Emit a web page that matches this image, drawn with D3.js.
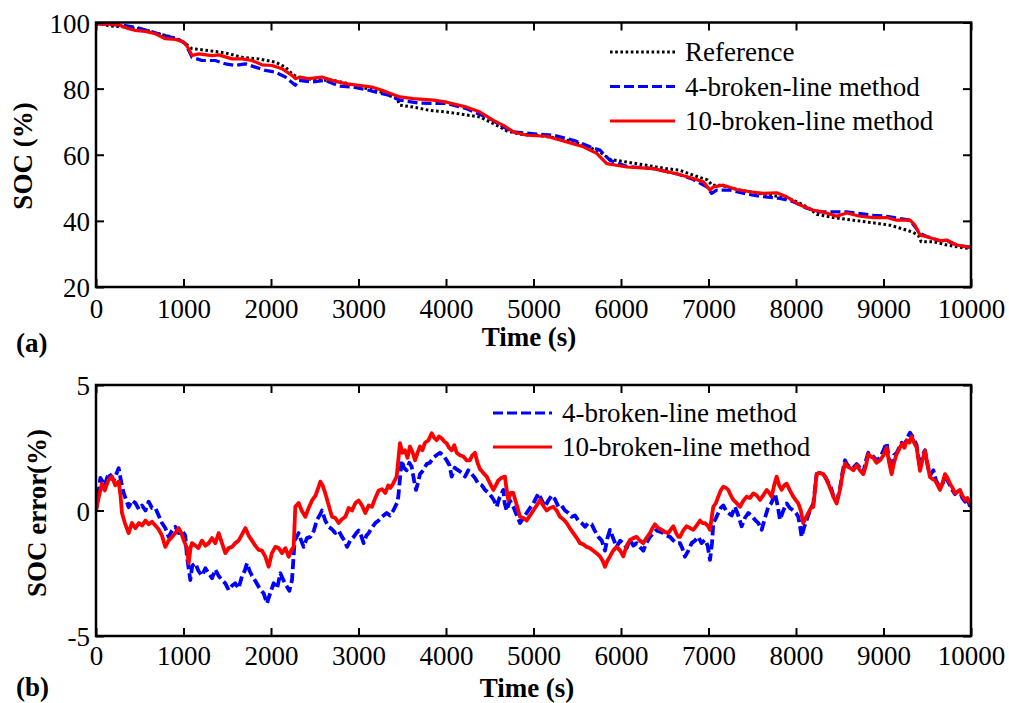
<!DOCTYPE html>
<html>
<head>
<meta charset="utf-8">
<script src="https://cdn.jsdelivr.net/npm/d3@7"></script>
<style>
  body { margin: 0; background: #fff; }
  text { font-family: "Liberation Serif", "Times New Roman", serif; }
</style>
</head>
<body>
<div id="chart"></div>
<script>
// ---- data ----
const xTicks = [0, 1000, 2000, 3000, 4000, 5000, 6000, 7000, 8000, 9000, 10000];
const socTicks = [20, 40, 60, 80, 100];
const errTicks = [-5, 0, 5];

// (a) SOC curves
const refT = [0, 150, 335, 526, 716, 869, 964, 1021, 1097, 1288, 1478, 1669, 1859, 2050, 2164, 2240, 2297, 2431, 2583, 2697, 2850, 3002, 3230, 3364, 3440, 3474, 3627, 3817, 4008, 4198, 4389, 4503, 4617, 4694, 4846, 5037, 5227, 5418, 5608, 5760, 5875, 6065, 6294, 6523, 6674, 6826, 6941, 6990, 7040, 7131, 7360, 7589, 7817, 7950, 8046, 8150, 8236, 8427, 8655, 8884, 9074, 9265, 9341, 9400, 9430, 9570, 9722, 9874, 10000];
const refSoc = [100, 99.0, 98.6, 98.0, 96.6, 95.6, 94.6, 93.6, 92.1, 91.5, 90.8, 89.5, 89.0, 88.0, 86.5, 84.5, 83.5, 82.9, 82.5, 82.6, 81.7, 80.6, 79.2, 77.8, 77.0, 75.0, 74.4, 73.4, 72.9, 72.2, 71.4, 69.9, 68.4, 67.2, 66.2, 65.9, 65.2, 64.2, 62.6, 60.8, 58.6, 57.8, 56.8, 55.8, 55.3, 53.8, 52.8, 52.4, 50.8, 50.8, 49.3, 48.3, 47.3, 46.5, 45.3, 43.8, 42.0, 41.0, 40.2, 39.4, 38.7, 37.2, 36.5, 35.5, 33.7, 33.7, 32.7, 32.0, 31.6];

const soc4T = [0, 68, 335, 488, 716, 945, 1021, 1097, 1211, 1364, 1478, 1592, 1707, 1821, 1935, 2050, 2164, 2278, 2316, 2469, 2621, 2773, 2926, 3116, 3345, 3474, 3703, 4008, 4237, 4503, 4656, 4770, 5075, 5227, 5456, 5646, 5760, 5875, 6065, 6370, 6656, 6826, 6979, 7036, 7093, 7246, 7436, 7627, 7817, 7969, 8122, 8274, 8579, 8884, 9036, 9189, 9303, 9417, 9493, 9646, 9722, 9836, 10000];
const soc4 = [99.6, 99.6, 99.1, 98.3, 96.6, 94.9, 93.6, 89.5, 88.5, 88.5, 87.5, 87.0, 87.5, 86.5, 85.5, 85.0, 83.5, 81.0, 82.5, 82.0, 82.5, 80.8, 80.5, 79.5, 78.0, 76.5, 75.6, 75.5, 73.9, 70.9, 68.4, 66.9, 66.2, 65.9, 64.4, 62.4, 61.4, 58.3, 56.5, 55.8, 54.1, 52.5, 50.3, 48.3, 49.3, 49.3, 48.1, 47.3, 46.8, 45.8, 43.8, 42.7, 42.7, 41.7, 41.4, 40.7, 40.2, 36.2, 35.3, 34.0, 34.0, 32.7, 32.0];

const soc10T = [0, 30, 145, 259, 373, 450, 564, 678, 792, 907, 1002, 1059, 1097, 1173, 1326, 1402, 1554, 1669, 1783, 1897, 2011, 2126, 2240, 2278, 2335, 2431, 2583, 2697, 2850, 3002, 3154, 3269, 3364, 3474, 3627, 3856, 4008, 4237, 4389, 4541, 4656, 4770, 4922, 5151, 5379, 5570, 5722, 5837, 6065, 6370, 6656, 6826, 6941, 7017, 7055, 7170, 7322, 7474, 7627, 7779, 7893, 8046, 8198, 8312, 8464, 8579, 8731, 8884, 9036, 9150, 9303, 9360, 9417, 9493, 9646, 9722, 9836, 10000];
const soc10 = [99.6, 99.6, 99.6, 99.3, 98.1, 97.6, 97.3, 96.6, 95.1, 94.9, 94.1, 92.1, 90.0, 90.5, 90.0, 90.2, 89.0, 89.0, 88.5, 87.2, 87.0, 86.0, 84.0, 83.0, 83.5, 83.0, 83.5, 82.5, 81.5, 81.0, 80.5, 79.5, 78.5, 77.5, 77.0, 76.5, 75.9, 74.4, 72.9, 70.4, 68.9, 66.9, 65.9, 65.6, 63.9, 62.4, 60.4, 57.3, 56.3, 55.8, 54.1, 52.8, 51.8, 49.3, 50.3, 50.8, 49.5, 48.8, 48.3, 48.5, 47.3, 44.8, 43.2, 42.7, 41.4, 42.4, 41.4, 41.0, 41.0, 40.2, 40.2, 38.7, 35.7, 35.2, 34.0, 34.2, 32.7, 32.0];

// (b) SOC error curves
const err4T = [0, 25, 50, 100, 145, 202, 259, 290, 316, 373, 410, 450, 490, 526, 565, 602, 640, 678, 716, 754, 792, 830, 869, 907, 945, 983, 1020, 1040, 1078, 1100, 1135, 1170, 1211, 1250, 1288, 1326, 1364, 1400, 1440, 1478, 1516, 1554, 1592, 1630, 1669, 1700, 1726, 1755, 1783, 1820, 1859, 1890, 1916, 1954, 1990, 2030, 2070, 2107, 2145, 2183, 2210, 2240, 2270, 2316, 2345, 2373, 2410, 2450, 2490, 2526, 2555, 2583, 2620, 2659, 2697, 2735, 2773, 2811, 2840, 2869, 2905, 2945, 2975, 3002, 3030, 3059, 3090, 3116, 3150, 3192, 3230, 3269, 3322, 3360, 3398, 3440, 3455, 3493, 3520, 3550, 3580, 3607, 3635, 3657, 3680, 3703, 3740, 3779, 3815, 3855, 3890, 3931, 3970, 4007, 4040, 4065, 4100, 4141, 4180, 4217, 4255, 4293, 4330, 4369, 4410, 4446, 4485, 4522, 4550, 4579, 4610, 4655, 4670, 4693, 4730, 4769, 4810, 4846, 4885, 4922, 4960, 4998, 5030, 5055, 5095, 5131, 5170, 5208, 5245, 5284, 5320, 5360, 5400, 5436, 5475, 5512, 5550, 5589, 5625, 5665, 5700, 5741, 5780, 5817, 5845, 5874, 5910, 5950, 5990, 6026, 6065, 6103, 6140, 6179, 6215, 6255, 6290, 6331, 6370, 6407, 6445, 6484, 6520, 6560, 6600, 6636, 6674, 6700, 6731, 6770, 6807, 6845, 6884, 6920, 6960, 6990, 7017, 7040, 7055, 7085, 7112, 7140, 7170, 7200, 7227, 7265, 7303, 7340, 7379, 7415, 7455, 7490, 7531, 7570, 7608, 7645, 7684, 7720, 7760, 7790, 7817, 7855, 7893, 7930, 7969, 8000, 8026, 8045, 8064, 8090, 8122, 8160, 8198, 8236, 8270, 8312, 8340, 8369, 8400, 8426, 8464, 8502, 8530, 8560, 8590, 8617, 8655, 8693, 8730, 8769, 8800, 8826, 8855, 8883, 8920, 8960, 9000, 9036, 9065, 9093, 9120, 9150, 9180, 9208, 9240, 9265, 9303, 9340, 9379, 9417, 9445, 9474, 9505, 9531, 9570, 9600, 9646, 9680, 9703, 9730, 9760, 9790, 9817, 9845, 9874, 9900, 9932, 9960, 9985, 10000];
const err4 = [0.0, 0.6, 1.3, 1.0, 1.5, 1.2, 1.68, 1.1, 0.7, 0.13, 0.4, 0.3, 0.05, 0.2, 0.0, 0.35, 0.1, 0.1, -0.2, -0.5, -0.7, -1.05, -0.8, -0.65, -0.9, -0.8, -1.0, -1.85, -2.77, -2.2, -2.1, -2.4, -2.6, -2.3, -2.5, -2.7, -2.35, -2.6, -2.77, -2.9, -3.17, -3.0, -2.9, -3.1, -2.6, -2.4, -2.1, -2.4, -2.6, -2.8, -3.04, -3.2, -3.3, -3.7, -3.3, -2.9, -3.1, -2.5, -2.8, -3.04, -3.2, -2.77, -1.2, -0.9, -1.2, -1.45, -1.1, -1.05, -0.8, -0.37, -0.2, 0.0, -0.4, -0.65, -0.75, -0.9, -0.8, -1.05, -1.2, -1.45, -1.2, -1.05, -0.9, -0.8, -1.0, -1.3, -1.0, -0.9, -0.7, -0.5, -0.4, -0.25, -0.1, -0.2, 0.0, 0.3, 0.55, 2.0, 1.7, 1.6, 1.9, 1.75, 1.2, 0.82, 1.1, 1.45, 1.6, 1.85, 1.9, 2.1, 2.2, 2.3, 2.2, 2.0, 1.8, 1.35, 1.7, 1.6, 1.5, 1.35, 1.6, 1.45, 1.3, 1.07, 1.0, 0.82, 0.7, 0.55, 0.4, 0.15, 0.5, 0.82, 0.3, 0.0, 0.4, 0.15, -0.2, -0.5, -0.3, -0.1, 0.1, 0.28, 0.5, 0.68, 0.4, 0.15, 0.4, 0.6, 0.45, 0.15, 0.2, 0.0, -0.1, -0.25, -0.2, -0.4, -0.5, -0.65, -0.5, -0.55, -0.8, -1.05, -1.2, -1.6, -1.1, -0.77, -1.1, -1.45, -1.2, -1.3, -1.5, -1.17, -1.4, -1.3, -1.45, -1.6, -1.3, -1.05, -0.9, -0.77, -0.85, -0.9, -1.0, -1.05, -1.2, -1.3, -1.3, -1.5, -1.84, -1.6, -1.3, -1.2, -1.05, -1.3, -1.17, -1.4, -1.97, -1.3, -0.5, -0.3, -0.1, 0.1, 0.2, 0.0, -0.1, -0.2, 0.15, -0.2, -0.63, -0.3, -0.1, -0.2, -0.37, -0.5, -0.77, -0.3, 0.15, 0.3, 0.68, 0.2, -0.37, 0.0, 0.28, 0.1, 0.0, -0.1, -0.25, -0.6, -1.05, -0.7, -0.37, 0.0, 0.28, 1.45, 1.5, 1.45, 1.3, 1.1, 0.9, 0.6, 0.35, 0.85, 1.5, 2.0, 1.8, 1.75, 1.7, 1.85, 1.7, 1.5, 2.0, 2.3, 2.2, 2.15, 2.0, 2.1, 2.4, 2.7, 2.0, 1.6, 2.2, 2.3, 2.5, 2.7, 2.6, 2.85, 3.1, 2.9, 2.6, 1.7, 2.2, 2.4, 1.8, 1.4, 1.6, 1.2, 0.9, 1.1, 1.4, 1.2, 1.0, 0.8, 0.65, 0.75, 0.75, 0.5, 0.35, 0.45, 0.2, 0.35];

const err10T = [0, 30, 68, 100, 140, 183, 220, 259, 280, 297, 330, 373, 411, 450, 490, 526, 565, 602, 640, 678, 716, 754, 792, 830, 869, 907, 945, 975, 1002, 1040, 1059, 1080, 1097, 1135, 1170, 1211, 1250, 1288, 1326, 1364, 1402, 1440, 1478, 1516, 1554, 1592, 1630, 1669, 1707, 1745, 1783, 1820, 1859, 1897, 1935, 1973, 2010, 2050, 2088, 2126, 2165, 2202, 2230, 2259, 2278, 2316, 2350, 2392, 2430, 2469, 2510, 2540, 2564, 2590, 2621, 2660, 2697, 2735, 2773, 2810, 2850, 2888, 2926, 2965, 3002, 3040, 3078, 3116, 3154, 3192, 3230, 3270, 3307, 3340, 3364, 3400, 3436, 3474, 3500, 3531, 3560, 3588, 3620, 3646, 3675, 3703, 3730, 3760, 3800, 3836, 3865, 3893, 3920, 3950, 3980, 4007, 4035, 4065, 4095, 4122, 4160, 4198, 4235, 4274, 4300, 4331, 4360, 4388, 4425, 4465, 4500, 4541, 4570, 4598, 4635, 4674, 4690, 4712, 4740, 4769, 4810, 4846, 4885, 4922, 4960, 4998, 5036, 5074, 5110, 5150, 5190, 5227, 5265, 5303, 5340, 5379, 5415, 5455, 5495, 5531, 5570, 5608, 5645, 5684, 5720, 5760, 5790, 5817, 5845, 5874, 5910, 5950, 5990, 6026, 6065, 6103, 6140, 6179, 6215, 6255, 6290, 6331, 6360, 6388, 6425, 6465, 6500, 6541, 6570, 6598, 6630, 6655, 6674, 6710, 6750, 6790, 6826, 6865, 6903, 6930, 6960, 6990, 7017, 7040, 7055, 7085, 7112, 7140, 7170, 7200, 7227, 7255, 7284, 7320, 7360, 7400, 7436, 7475, 7512, 7550, 7589, 7625, 7665, 7695, 7722, 7750, 7779, 7808, 7836, 7865, 7893, 7930, 7969, 8000, 8026, 8055, 8083, 8110, 8141, 8170, 8198, 8236, 8270, 8312, 8340, 8369, 8400, 8426, 8464, 8502, 8530, 8560, 8590, 8617, 8655, 8693, 8730, 8769, 8800, 8826, 8855, 8883, 8920, 8960, 9000, 9036, 9065, 9093, 9120, 9150, 9180, 9208, 9240, 9265, 9295, 9322, 9350, 9379, 9417, 9445, 9474, 9505, 9531, 9560, 9589, 9620, 9646, 9675, 9703, 9730, 9760, 9790, 9817, 9845, 9874, 9900, 9932, 9960, 9985, 10000];
const err10 = [0.0, 0.5, 1.08, 0.8, 1.2, 1.35, 1.0, 1.15, 0.6, -0.1, -0.5, -0.9, -0.5, -0.7, -0.5, -0.6, -0.4, -0.55, -0.45, -0.6, -0.75, -1.0, -1.45, -1.2, -1.05, -0.9, -0.7, -0.9, -1.18, -1.5, -2.1, -1.5, -1.3, -1.4, -1.5, -1.2, -1.4, -1.3, -1.1, -1.3, -0.9, -1.3, -1.7, -1.5, -1.45, -1.3, -1.2, -0.95, -0.7, -1.0, -1.2, -1.4, -1.57, -1.6, -1.84, -2.24, -1.7, -1.45, -1.5, -1.7, -1.5, -1.84, -1.6, -1.45, 0.15, 0.3, 0.0, -0.25, 0.1, 0.4, 0.6, 0.9, 1.15, 1.0, 0.68, 0.2, -0.25, -0.3, -0.5, -0.35, -0.25, 0.1, 0.0, 0.3, 0.4, 0.2, -0.1, 0.2, 0.15, 0.5, 0.8, 0.85, 0.7, 1.0, 0.9, 1.1, 1.35, 2.68, 2.3, 2.4, 2.1, 2.55, 2.3, 2.0, 2.3, 2.55, 2.4, 2.7, 2.8, 3.08, 2.9, 2.8, 2.95, 2.88, 2.75, 2.68, 2.5, 2.4, 2.6, 2.3, 2.2, 2.15, 2.0, 2.0, 2.2, 2.3, 1.9, 1.65, 1.5, 1.35, 1.1, 0.82, 1.0, 1.2, 1.3, 1.35, 0.9, 0.42, 0.7, 0.7, 0.2, -0.25, -0.3, -0.4, -0.2, 0.0, 0.2, 0.42, 0.2, 0.0, 0.1, 0.15, 0.0, -0.25, -0.35, -0.5, -0.7, -0.9, -1.1, -1.3, -1.35, -1.45, -1.5, -1.6, -1.7, -1.83, -2.0, -2.24, -2.0, -1.83, -1.6, -1.45, -1.6, -1.83, -1.4, -1.17, -1.1, -1.05, -1.2, -1.3, -1.1, -0.9, -0.7, -0.55, -0.7, -0.77, -0.85, -0.9, -0.75, -0.63, -0.9, -1.05, -1.05, -0.8, -0.63, -0.7, -0.77, -0.6, -0.4, -0.5, -0.5, -0.6, -0.77, -0.2, 0.15, 0.3, 0.55, 0.8, 0.95, 0.9, 0.82, 0.6, 0.42, 0.3, 0.15, 0.4, 0.55, 0.5, 0.68, 0.6, 0.42, 0.6, 0.82, 0.7, 0.55, 1.0, 1.35, 1.0, 0.82, 1.0, 1.07, 0.8, 0.55, 0.4, 0.28, 0.0, -0.5, -0.3, -0.1, 0.1, 0.15, 1.45, 1.5, 1.45, 1.3, 1.07, 0.8, 0.55, 0.28, 0.82, 1.4, 1.88, 1.75, 1.7, 1.6, 1.8, 1.6, 1.45, 1.8, 2.25, 2.15, 2.1, 1.9, 2.0, 2.2, 2.5, 1.9, 1.45, 1.9, 2.25, 2.45, 2.65, 2.5, 2.8, 2.7, 2.95, 2.7, 2.5, 1.58, 2.0, 2.38, 1.8, 1.33, 1.25, 1.2, 1.0, 0.82, 1.1, 1.45, 1.3, 1.07, 0.9, 0.68, 0.75, 0.82, 0.6, 0.42, 0.5, 0.3, 0.35];

const legendA = ["Reference", "4-broken-line method", "10-broken-line method"];
const legendB = ["4-broken-line method", "10-broken-line method"];

// ---- chart ----
const W = 1009, H = 703;
const FONT = 27;

const svg = d3.select("#chart").append("svg")
    .attr("width", W)
    .attr("height", H);
svg.append("rect").attr("width", W).attr("height", H).attr("fill", "#fff");

const x = d3.scaleLinear().domain([0, 10000]).range([96, 971]);
const yA = d3.scaleLinear().domain([20, 100]).range([287, 22.5]);
const yB = d3.scaleLinear().domain([-5, 5]).range([636, 385]);

const styles = {
    ref: { color: "#000", dash: "2.6,2.6", width: 3 },
    m4: { color: "#0000ff", dash: "10,4", width: 3.2 },
    m10: { color: "#ff0000", dash: null, width: 3.2 }
};

function zip(ts, vs) { return ts.map((t, i) => [t, vs[i]]); }

function panel(id, y, yTicks, tickLabelGap) {
    const g = svg.append("g");
    const [y0, y1] = y.range();

    svg.append("clipPath").attr("id", id)
        .append("rect")
        .attr("x", x.range()[0]).attr("y", y1)
        .attr("width", x.range()[1] - x.range()[0]).attr("height", y0 - y1);

    const plot = g.append("g").attr("clip-path", `url(#${id})`);

    // x axis bottom with labels, mirrored at the top
    g.append("g").attr("transform", `translate(0,${y0})`)
        .call(d3.axisBottom(x).tickValues(xTicks).tickFormat(d => String(d))
            .tickSizeInner(-8).tickSizeOuter(0).tickPadding(tickLabelGap));
    g.append("g").attr("transform", `translate(0,${y1})`)
        .call(d3.axisTop(x).tickValues(xTicks).tickFormat("")
            .tickSizeInner(-8).tickSizeOuter(0));

    const yl = g.append("g").attr("transform", `translate(${x.range()[0]},0)`)
        .call(d3.axisLeft(y).tickValues(yTicks).tickFormat(d => String(d))
            .tickSizeInner(-8).tickSizeOuter(0).tickPadding(6));
    g.append("g").attr("transform", `translate(${x.range()[1]},0)`)
        .call(d3.axisRight(y).tickValues(yTicks).tickFormat("")
            .tickSizeInner(-8).tickSizeOuter(0));

    g.selectAll(".domain").remove();
    g.selectAll(".tick line").attr("stroke", "#000").attr("stroke-width", 2);
    g.selectAll(".tick text")
        .attr("font-family", '"Liberation Serif", "Times New Roman", serif')
        .attr("font-size", FONT)
        .attr("fill", "#000");
    yl.selectAll(".tick text").attr("dy", "0.36em");

    g.append("rect")
        .attr("x", x.range()[0]).attr("y", y1)
        .attr("width", x.range()[1] - x.range()[0]).attr("height", y0 - y1)
        .attr("fill", "none").attr("stroke", "#000").attr("stroke-width", 2.5);

    return plot;
}

function drawLine(plot, data, y, st, w) {
    plot.append("path")
        .datum(data)
        .attr("fill", "none")
        .attr("stroke", st.color)
        .attr("stroke-width", w || st.width)
        .attr("stroke-dasharray", st.dash)
        .attr("stroke-linejoin", "round")
        .attr("d", d3.line().x(d => x(d[0])).y(d => y(d[1])));
}

function legend(items, x0, x1, yStart, step) {
    items.forEach((it, i) => {
        const yy = yStart + i * step;
        svg.append("line")
            .attr("x1", x0).attr("x2", x1).attr("y1", yy).attr("y2", yy)
            .attr("stroke", it.st.color).attr("stroke-width", it.st.width)
            .attr("stroke-dasharray", it.st.dash);
        svg.append("text")
            .attr("x", x1 + 10).attr("y", yy + 9)
            .attr("font-size", FONT)
            .text(it.label);
    });
}

// (a)
const pA = panel("clipA", yA, socTicks, 12);
drawLine(pA, zip(refT, refSoc), yA, styles.ref);
drawLine(pA, zip(soc4T, soc4), yA, styles.m4);
drawLine(pA, zip(soc10T, soc10), yA, styles.m10);
legend([
    { label: legendA[0], st: styles.ref },
    { label: legendA[1], st: styles.m4 },
    { label: legendA[2], st: styles.m10 }
], 610, 675, 52, 34.5);

svg.append("text").attr("x", 529).attr("y", 346).attr("text-anchor", "middle")
    .attr("font-size", FONT).attr("font-weight", "bold").text("Time (s)");
svg.append("text").attr("x", 16).attr("y", 352)
    .attr("font-size", FONT).attr("font-weight", "bold").text("(a)");
svg.append("text").attr("transform", "translate(32,156) rotate(-90)")
    .attr("text-anchor", "middle")
    .attr("font-size", FONT).attr("font-weight", "bold").text("SOC (%)");

// (b)
const pB = panel("clipB", yB, errTicks, 10);
drawLine(pB, zip(err4T, err4), yB, styles.m4, 3.8);
drawLine(pB, zip(err10T, err10), yB, styles.m10, 3.8);
legend([
    { label: legendB[0], st: styles.m4 },
    { label: legendB[1], st: styles.m10 }
], 493, 552, 413, 34);

svg.append("text").attr("x", 527).attr("y", 697).attr("text-anchor", "middle")
    .attr("font-size", FONT).attr("font-weight", "bold").text("Time (s)");
svg.append("text").attr("x", 16).attr("y", 696)
    .attr("font-size", FONT).attr("font-weight", "bold").text("(b)");
svg.append("text").attr("transform", "translate(46,513) rotate(-90)")
    .attr("text-anchor", "middle")
    .attr("font-size", FONT).attr("font-weight", "bold").text("SOC error(%)");
</script>
</body>
</html>
